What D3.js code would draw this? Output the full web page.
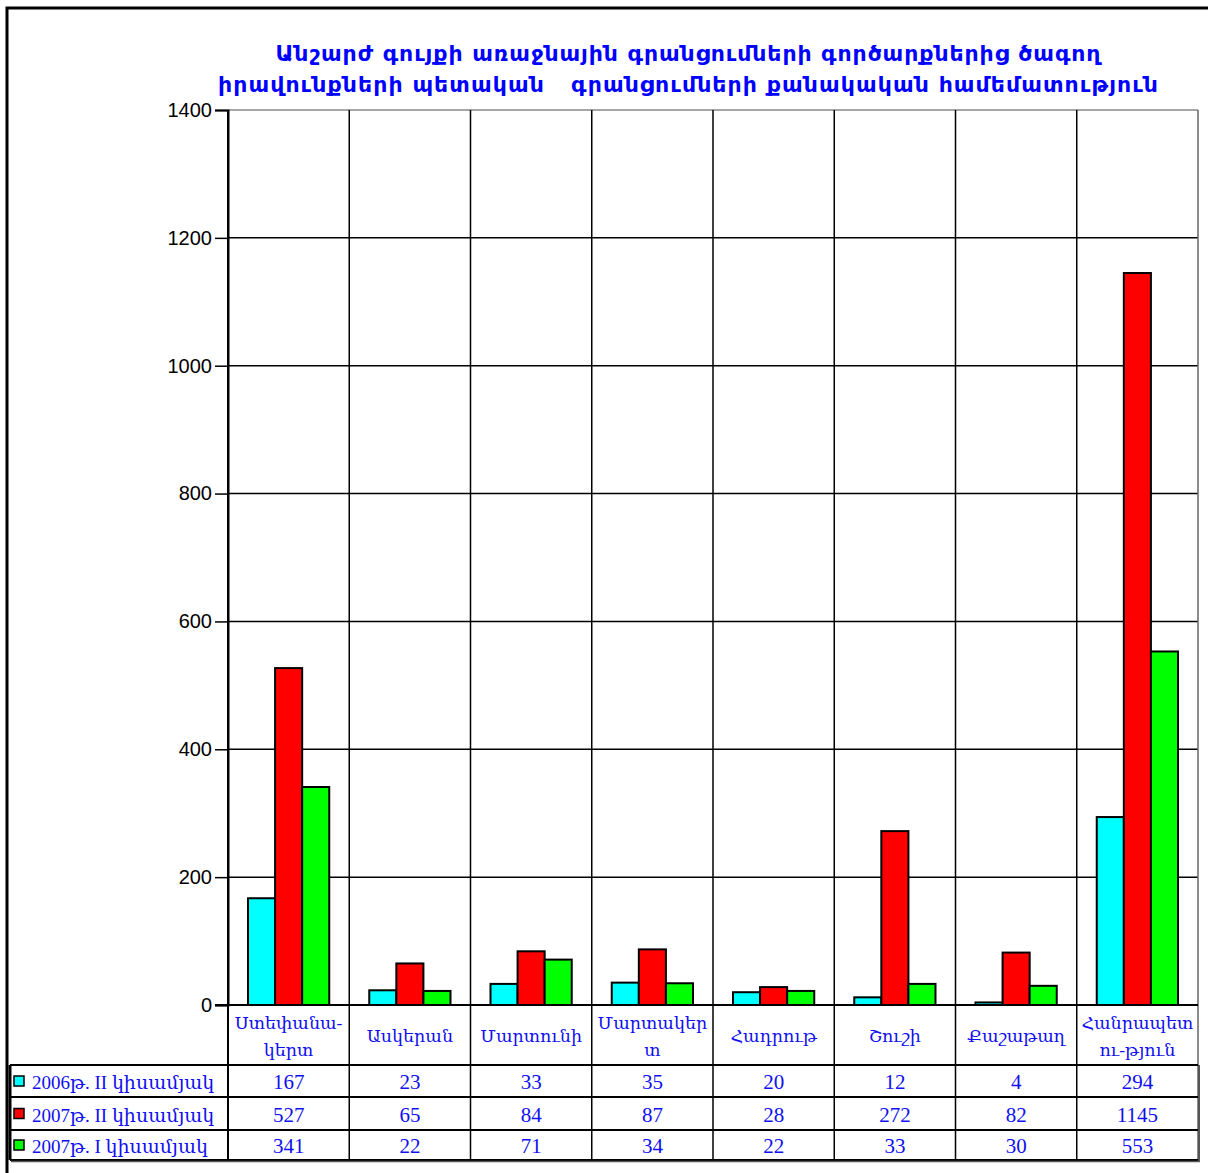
<!DOCTYPE html>
<html><head><meta charset="utf-8">
<script src="https://cdn.jsdelivr.net/npm/d3@7"></script>
<style>
body{margin:0;background:#fff;}
svg{display:block;}
</style></head>
<body>
<svg id="c" width="1208" height="1173"></svg>
<script>
const categories = ["Ստեփանա-\nկերտ","Ասկերան","Մարտունի","Մարտակեր\nտ","Հադրութ","Շուշի","Քաշաթաղ","Հանրապետ\nու-թյուն"];
const seriesNames = ["2006թ. II կիսամյակ","2007թ. II կիսամյակ","2007թ. I կիսամյակ"];
const s2006H2 = [167,23,33,35,20,12,4,294];
const s2007H2 = [527,65,84,87,28,272,82,1145];
const s2007H1 = [341,22,71,34,22,33,30,553];
const seriesColors = ["#00ffff","#ff0000","#00ff00"];
const yTicks = [0,200,400,600,800,1000,1200,1400];
const titleLines = ["Անշարժ գույքի առաջնային գրանցումների գործարքներից ծագող","իրավունքների պետական   գրանցումների քանակական համեմատություն"];

const series = [s2006H2, s2007H2, s2007H1];
const svg = d3.select("#c");
const L=228, R=1198, T=110, B=1005;
const textBlue = "#1010f0";

// outer frame
svg.append("path").attr("d","M7,1173 L7,8 L1208,8").attr("fill","none").attr("stroke","#000").attr("stroke-width",3);

// title
titleLines.forEach((t,i)=>{
  svg.append("text").attr("x",688).attr("y",[61,92][i]).attr("text-anchor","middle")
    .attr("font-family","DejaVu Sans, sans-serif").attr("font-weight","bold").attr("font-size",22)
    .attr("fill","#0000ff").attr("xml:space","preserve").style("white-space","pre")
    .attr("textLength",[825,940][i]).attr("lengthAdjust","spacing").text(t);
});

const y = d3.scaleLinear().domain([0,1400]).range([B,T]);
const x = d3.scaleBand().domain(d3.range(categories.length)).range([L,R]).padding(0);
const xs = d3.scaleBand().domain(d3.range(3)).range([x.bandwidth()*0.165, x.bandwidth()*0.835]).padding(0);

// horizontal gridlines
svg.append("g").selectAll("line").data(yTicks.filter(d=>d>0)).join("line")
  .attr("x1",L).attr("x2",R).attr("y1",d=>y(d)).attr("y2",d=>y(d))
  .attr("stroke",d=>d===1400?"#888":"#000").attr("stroke-width",1.5);

// vertical gridlines (category boundaries), extend into table
const bounds = d3.range(categories.length+1).map(i=>i<categories.length?x(i):R);
svg.append("g").selectAll("line").data(bounds).join("line")
  .attr("x1",d=>d).attr("x2",d=>d).attr("y1",T).attr("y2",1160)
  .attr("stroke",(d,i)=>i===categories.length?"#666":"#000").attr("stroke-width",(d,i)=>i===0?2:1.5);

// y axis
const yAxis = d3.axisLeft(y).tickValues(yTicks).tickSize(13).tickPadding(3).tickFormat(d3.format("d"));
const ga = svg.append("g").attr("transform",`translate(${L},0)`).call(yAxis);
ga.attr("font-size",null).attr("font-family",null);
ga.select(".domain").attr("stroke","#000").attr("stroke-width",2);
ga.selectAll(".tick line").attr("stroke","#000").attr("stroke-width",1.5);
ga.selectAll(".tick text").attr("font-family","Liberation Sans, Arial, sans-serif").style("font-size","20px").attr("fill","#000");

// bars
series.forEach((vals,si)=>{
  svg.append("g").selectAll("rect").data(vals).join("rect")
    .attr("x",(d,i)=>x(i)+xs(si)).attr("width",xs.bandwidth())
    .attr("y",d=>y(d)).attr("height",d=>B-y(d))
    .attr("fill",seriesColors[si]).attr("stroke","#000").attr("stroke-width",2);
});

// x baseline
svg.append("line").attr("x1",L-13).attr("x2",R).attr("y1",B).attr("y2",B).attr("stroke","#000").attr("stroke-width",2);

// category labels
categories.forEach((c,i)=>{
  const lines = c.split("\n");
  const cx = x(i)+x.bandwidth()/2;
  const t = svg.append("text").attr("text-anchor","middle")
    .attr("font-family","Liberation Serif, DejaVu Serif, serif").attr("font-size",17.5).attr("fill",textBlue);
  if(lines.length===1){
    t.append("tspan").attr("x",cx).attr("y",1042).text(lines[0]);
  } else {
    lines.forEach((l,k)=>t.append("tspan").attr("x",cx).attr("y",1029+k*27).text(l));
  }
});

// data table
const rowY = [1065,1097,1130,1160];
svg.append("g").selectAll("line").data(rowY).join("line")
  .attr("x1",10).attr("x2",R).attr("y1",d=>d).attr("y2",d=>d)
  .attr("stroke","#000").attr("stroke-width",2);
svg.append("line").attr("x1",10).attr("x2",10).attr("y1",1065).attr("y2",1160).attr("stroke","#000").attr("stroke-width",3);
svg.append("line").attr("x1",1199).attr("x2",1199).attr("y1",1065).attr("y2",1161).attr("stroke","#555").attr("stroke-width",2);
svg.append("line").attr("x1",11).attr("x2",1200).attr("y1",1161.5).attr("y2",1161.5).attr("stroke","#555").attr("stroke-width",1.5);

seriesNames.forEach((n,si)=>{
  const cy = (rowY[si]+rowY[si+1])/2;
  svg.append("rect").attr("x",14).attr("y",cy-5).attr("width",10).attr("height",10)
    .attr("fill",seriesColors[si]).attr("stroke","#000").attr("stroke-width",1.5);
  svg.append("text").attr("x",32).attr("y",cy+8)
    .attr("font-family","Liberation Serif, DejaVu Serif, serif").attr("font-size",19).attr("fill",textBlue).text(n);
  series[si].forEach((v,i)=>{
    svg.append("text").attr("x",x(i)+x.bandwidth()/2).attr("y",cy+8).attr("text-anchor","middle")
      .attr("font-family","Liberation Serif, DejaVu Serif, serif").attr("font-size",21).attr("fill",textBlue).text(v);
  });
});
</script>
</body></html>
